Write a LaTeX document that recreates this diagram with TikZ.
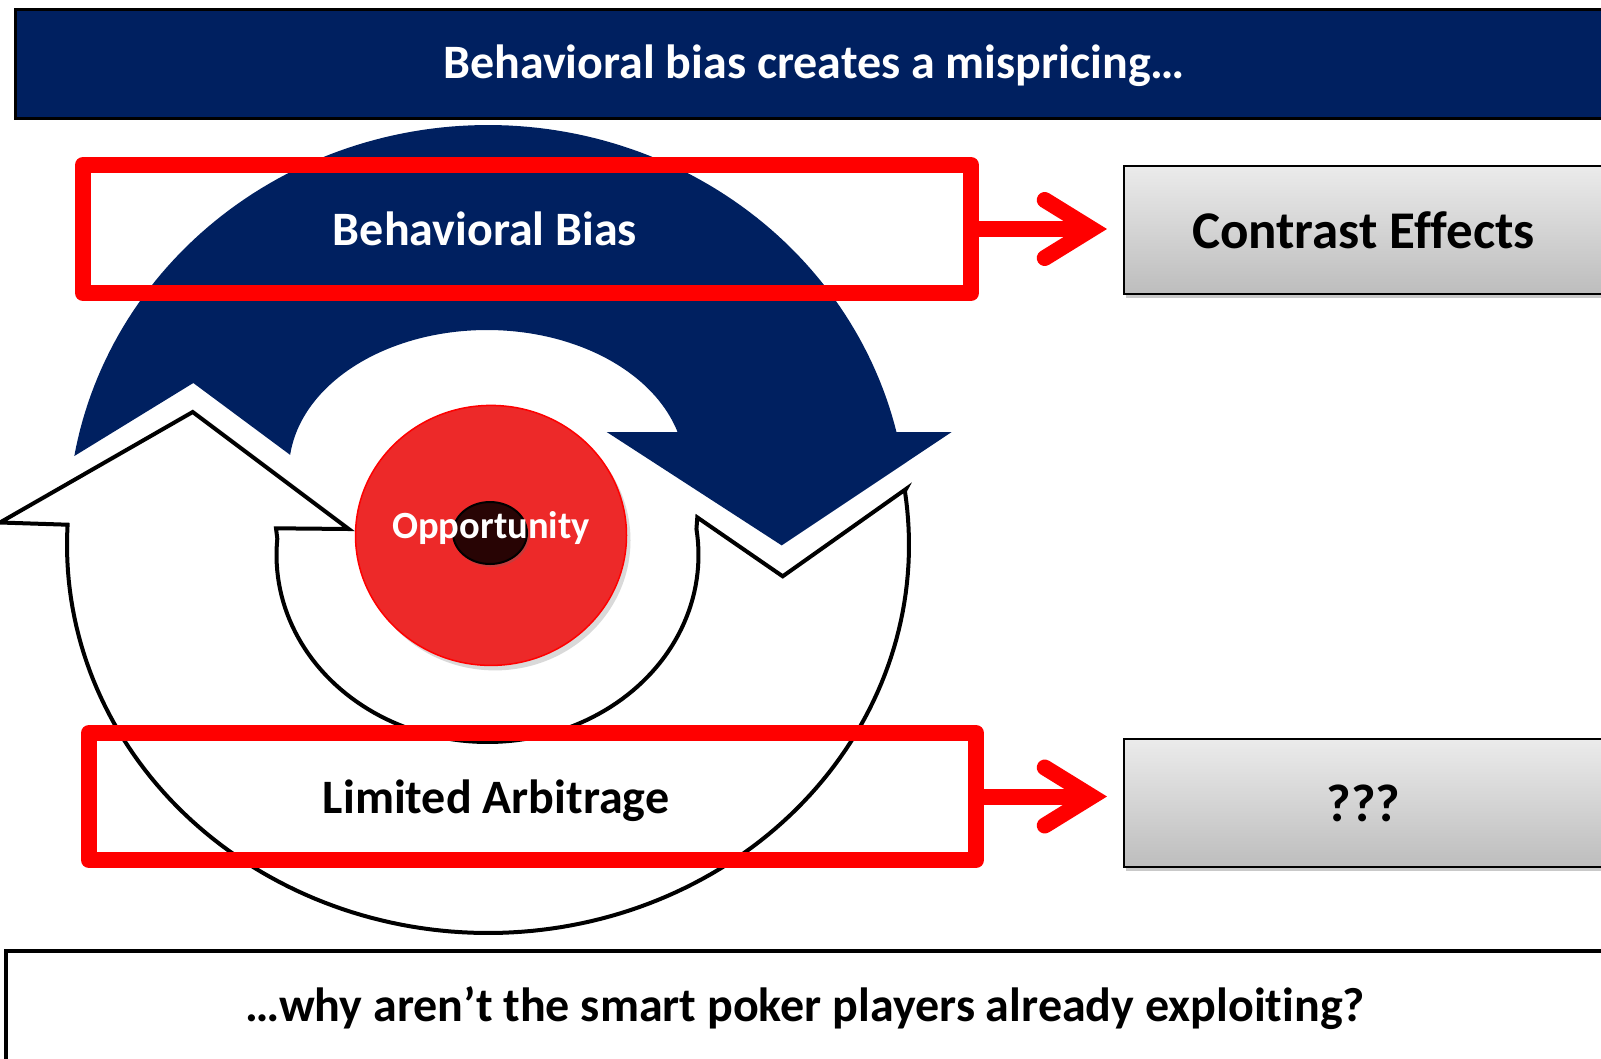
\documentclass[tikz,border=0pt]{standalone}
\usepackage{fontspec}
\setmainfont{Carlito}[Ligatures=NoCommon]
\usetikzlibrary{shapes.geometric,shadows,calc}

\definecolor{navy}{RGB}{0,32,96}
\definecolor{oppred}{RGB}{237,41,41}
\definecolor{oppcore}{RGB}{40,4,4}
\definecolor{greytop}{RGB}{235,235,235}
\definecolor{greybot}{RGB}{189,189,189}

\tikzset{
  txt/.style={font=\bfseries\fontsize{48}{57}\selectfont, inner sep=0, anchor=base},
  redframe/.style={draw=red, line width=16, line join=round, inner sep=0},
  redshaft/.style={draw=red, line width=16},
  redhead/.style={draw=red, line width=16, line cap=round, line join=miter},
  graybox/.style={draw=black, line width=2.5, top color=greytop, bottom color=greybot,
    minimum width=479, minimum height=128, inner sep=0,
    drop shadow={shadow xshift=2pt, shadow yshift=-4pt, opacity=0.3, fill=black!70},
    font=\bfseries\fontsize{53}{63}\selectfont},
  outline/.style={draw=black, fill=white, line width=4, line join=miter},
}

\begin{document}
\begin{tikzpicture}[x=1pt, y=-1pt]
\useasboundingbox (0,0) rectangle (1601,1058);
\clip (0,0) rectangle (1601,1058);

% header bar
\node[draw=black, line width=3, fill=navy, minimum width=1610, minimum height=109,
      inner sep=0, anchor=north west] (bar) at (13.5,7.5) {};
\node[txt, white] (title) at (814,78.3) {Behavioral bias creates a mispricing…};

% question box at the foot
\node[draw=black, line width=4, fill=white, minimum width=1650, minimum height=140,
      inner sep=0, anchor=north west] (foot) at (4,948.5) {};
\node[txt] (question) at (805,1021) {…why aren’t the smart poker players already exploiting?};

% blue curved arrow (behavioral bias)
\fill[navy]
  plot[domain=189.93:346.56, samples=120, variable=\t] ({488+420*cos(\t)},{525+400*sin(\t)})
  -- (951.7,432) -- (781.7,545.4) -- (606.7,432)
  -- plot[domain=344.3:186.2, samples=90, variable=\t] ({487+198*cos(\t)},{470+140*sin(\t)})
  -- (193.3,383) -- cycle;

% white curved arrow (limited arbitrage)
\path[outline]
  (0,522.5) -- (192.7,412) -- (348.7,529) -- (276,528.3)
  -- plot[domain=185:-8, samples=100, variable=\t] ({487.5+211*cos(\t)},{555+187*sin(\t)})
  -- (697.3,517.4) -- (782.7,576.3) -- (906,489)
  -- plot[domain=-8:183, samples=140, variable=\t] ({488+421*cos(\t)},{545+388*sin(\t)})
  -- cycle;

% opportunity target
\node[ellipse, fill=oppred, draw=red, line width=1.5, minimum width=271, minimum height=260,
      inner sep=0, drop shadow={shadow xshift=4pt, shadow yshift=-5pt, opacity=0.25, fill=black!60}]
      (opp) at (491,535.4) {};
\node[ellipse, fill=oppcore, draw=black, line width=2, minimum width=74, minimum height=62,
      inner sep=0, drop shadow={shadow xshift=2pt, shadow yshift=-3pt, opacity=0.3, fill=black!60}]
      (core) at (490,533) {};
\node[txt, white, font=\bfseries\fontsize{38.5}{46}\selectfont] (opplabel) at (491,538) {Opportunity};

% red highlight frames
\node[redframe, minimum width=888, minimum height=128] (redA) at (527,229) {};
\node[txt, white] (biaslabel) at (485,245.7) {Behavioral Bias};
\node[redframe, minimum width=887, minimum height=127] (redB) at (532.5,796.5) {};
\node[txt] (arblabel) at (496,813.3) {Limited Arbitrage};

% grey result boxes
\node[graybox] (grayA) at (1363.5,230) {Contrast Effects};
\node[graybox] (grayB) at (1363.5,803.2) {???};

% red arrows from the frames to the boxes
\path (redA.east -| grayA.west) ++(-31,0) coordinate (tipA);
\path (redB.east -| grayB.west) ++(-31,0) coordinate (tipB);
\draw[redshaft] (redA.east) -- (tipA);
\draw[redhead] ($(tipA)+(-47,-29)$) -- (tipA) -- ($(tipA)+(-47,29)$);
\draw[redshaft] (redB.east) -- (tipB);
\draw[redhead] ($(tipB)+(-47,-29)$) -- (tipB) -- ($(tipB)+(-47,29)$);
\end{tikzpicture}
\end{document}
